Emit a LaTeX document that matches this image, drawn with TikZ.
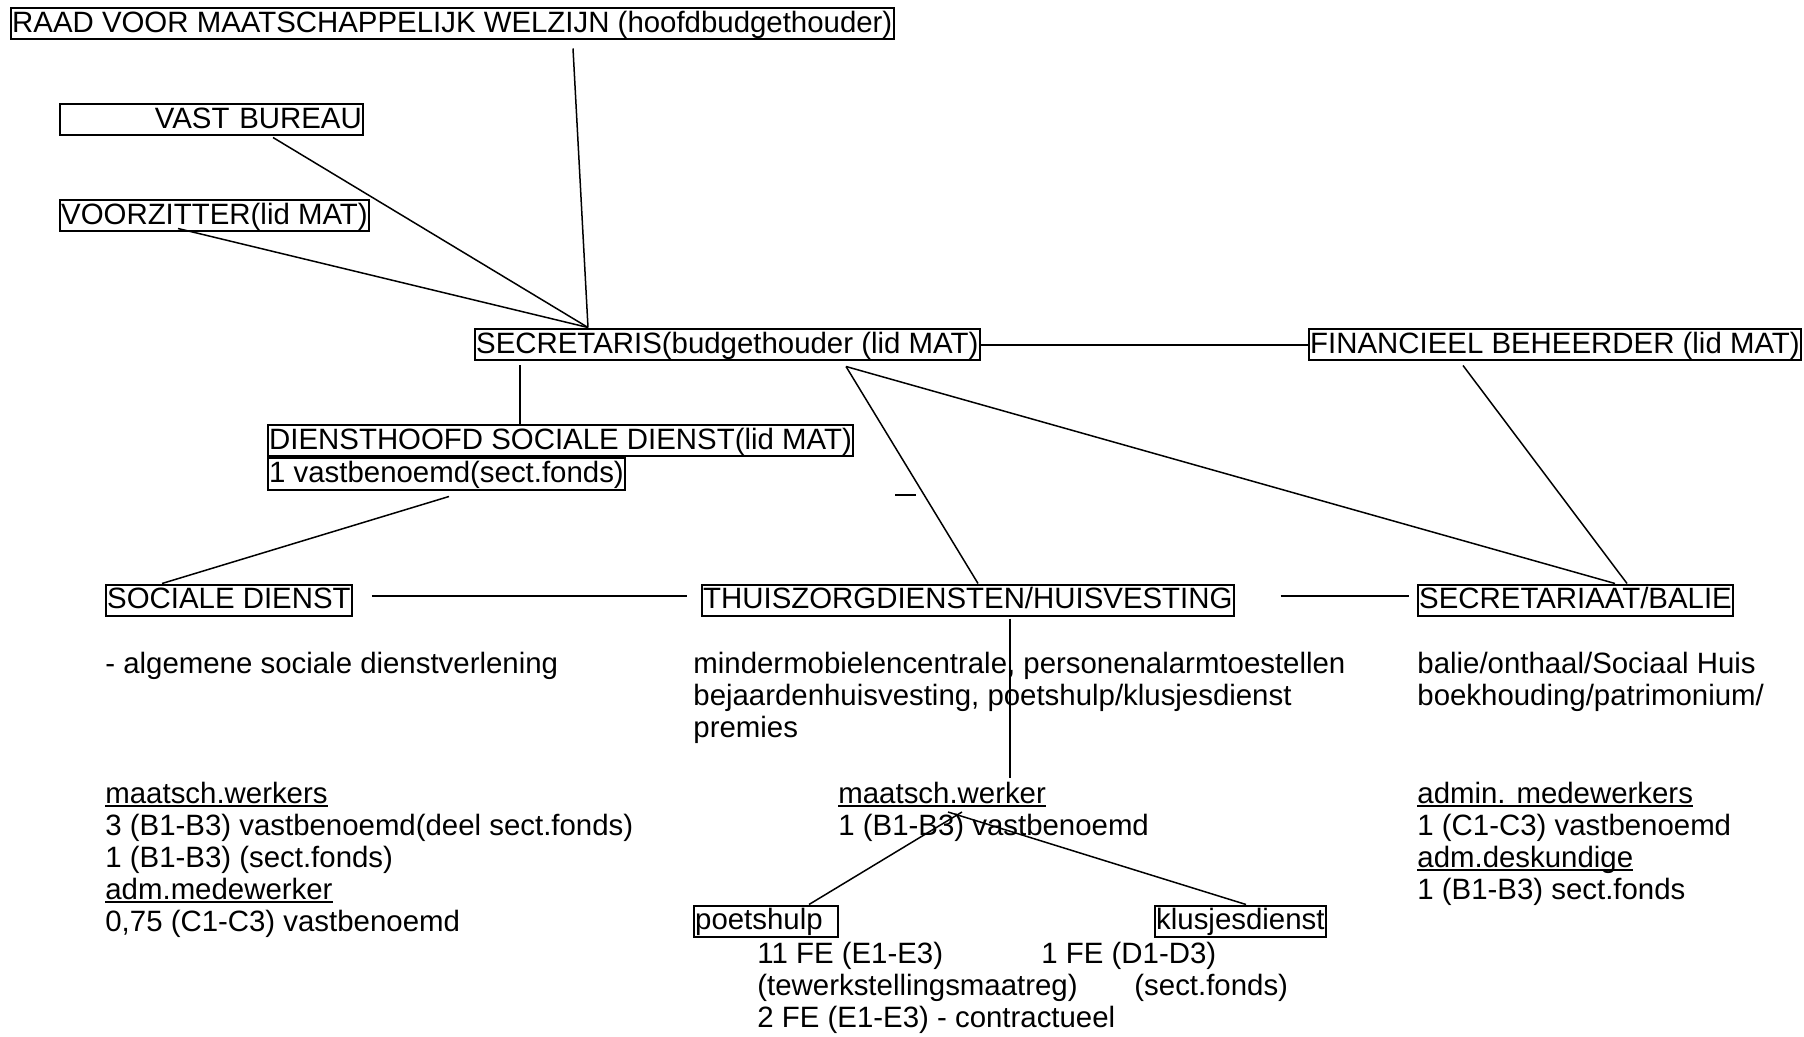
\documentclass[tikz,border=0pt]{standalone}
\usepackage{fontspec}
\setmainfont{Liberation Sans}
\usetikzlibrary{positioning,calc}

\newcommand{\streep}[1]{{\setbox0\hbox{#1}\rlap{\rule[-1.9pt]{\wd0}{0.9pt}}\box0}}

\tikzset{
    kader/.style={draw, line width=1pt, anchor=west, inner xsep=0.6pt, inner ysep=0pt,
        text height=12pt, text depth=3.5pt},
    tekst/.style={anchor=base west, inner sep=0pt, align=left},
    lijn/.style={line width=0.75pt},
}

\begin{document}
\begin{tikzpicture}[x=0.5pt, y=-0.5pt, font=\fontsize{14.7}{16}\selectfont]

    \useasboundingbox (0,0) rectangle (1804,1037);

    % Bovenste niveau
    \node[kader] (raad) at (10,24) {RAAD VOOR MAATSCHAPPELIJK WELZIJN (hoofdbudgethouder)};
    \node[kader, text width=150.3pt, align=right] (vast) at (59,120) {VAST BUREAU};
    \node[kader] (voorz) at (59,216) {VOORZITTER(lid MAT)};
    \node[kader] (secr) at (474,345) {SECRETARIS(budgethouder (lid MAT)};
    \node[kader] (fin) at (1308,345) {FINANCIEEL BEHEERDER (lid MAT)};

    % Diensthoofd
    \node[kader] (dh1) at (267,441) {DIENSTHOOFD SOCIALE DIENST(lid MAT)};
    \node[kader, anchor=north west] (dh2) at (dh1.south west) {1 vastbenoemd(sect.fonds)};

    % Diensten
    \node[kader] (soc) at (105,600) {SOCIALE DIENST};
    \node[kader] (thuis) at (701,600) {THUISZORGDIENSTEN/HUISVESTING};
    \node[kader] (secrbal) at (1417,600) {SECRETARIAAT/BALIE};

    % Taken (base = laatste regel)
    \node[tekst] (soctaak) at (105,673) {- algemene sociale dienstverlening};
    \node[tekst] (thuistaak) at (693,737) {mindermobielencentrale, personenalarmtoestellen\\
        bejaardenhuisvesting, poetshulp/klusjesdienst\\premies};
    \node[tekst] (baltaak) at (1417,705) {balie/onthaal/Sociaal Huis\\boekhouding/patrimonium/};

    % Personeel
    \node[tekst] (socpers) at (105,931) {\streep{maatsch.werkers}\\
        3 (B1-B3) vastbenoemd(deel sect.fonds)\\1 (B1-B3) (sect.fonds)\\
        \streep{adm.medewerker}\\0,75 (C1-C3) vastbenoemd};
    \node[tekst] (mwkop) at (838,835) {\streep{maatsch.werker}\\1 (B1-B3) vastbenoemd};
    \node[tekst] (balpers) at (1417,899) {\streep{admin. medewerkers}\\1 (C1-C3) vastbenoemd\\
        \streep{adm.deskundige}\\1 (B1-B3) sect.fonds};

    % Poetshulp en klusjesdienst
    \node[kader, text width=70.8pt, align=left] (poets) at (693,921) {poetshulp};
    \node[kader] (klus) at (1154,921) {klusjesdienst};
    \node[tekst] (poetspers) at (757,1027) {11 FE (E1-E3)\\(tewerkstellingsmaatreg)\\2 FE (E1-E3) - contractueel};
    \node[tekst] (kluspers) at (1041,963) {1 FE (D1-D3)};
    \node[tekst] (klusfonds) at (1134,995) {(sect.fonds)};

    % Verbindingen
    \coordinate (hub) at ($(secr.north west)+(114,-1)$);
    \draw[lijn] ($(raad.south west)+(563,8)$) -- (hub);
    \draw[lijn] ($(vast.south west)+(214,1)$) -- (hub);
    \draw[lijn] ($(voorz.south west)+(119,-4)$) -- (hub);
    \draw[lijn] (secr.east) -- (fin.west);
    \draw[lijn] ($(secr.south west)+(46,4)$) -- ($(dh1.north west)+(253,0)$);

    \coordinate (secrvoet) at ($(secr.south west)+(372,5)$);
    \draw[lijn] (secrvoet) -- ($(thuis.north west)+(277,0)$);
    \draw[lijn] (secrvoet) -- ($(secrbal.north west)+(198,0)$);
    \draw[lijn] ($(fin.south west)+(155,4)$) -- ($(secrbal.north west)+(210,0)$);
    \draw[lijn] (895,495) -- (916,495);

    \draw[lijn] ($(dh2.south west)+(182,6)$) -- ($(soc.north west)+(57,0)$);
    \draw[lijn] ($(soc.east)+(19,-4)$) -- ($(thuis.west)+(-14,-4)$);
    \draw[lijn] ($(thuis.east)+(46,-4)$) -- ($(secrbal.west)+(-8,-4)$);
    \draw[lijn] ($(thuis.south west)+(309,2)$) -- ($(mwkop.base west)+(172,-57)$);

    \coordinate (mwl) at ($(mwkop.base west)+(110,-23)$);
    \coordinate (mwr) at ($(mwkop.base west)+(124,-23)$);
    \draw[lijn] ($(poets.north west)+(116,0)$) -- (mwr);
    \draw[lijn] (mwl) -- ($(klus.north west)+(92,0)$);

\end{tikzpicture}
\end{document}
